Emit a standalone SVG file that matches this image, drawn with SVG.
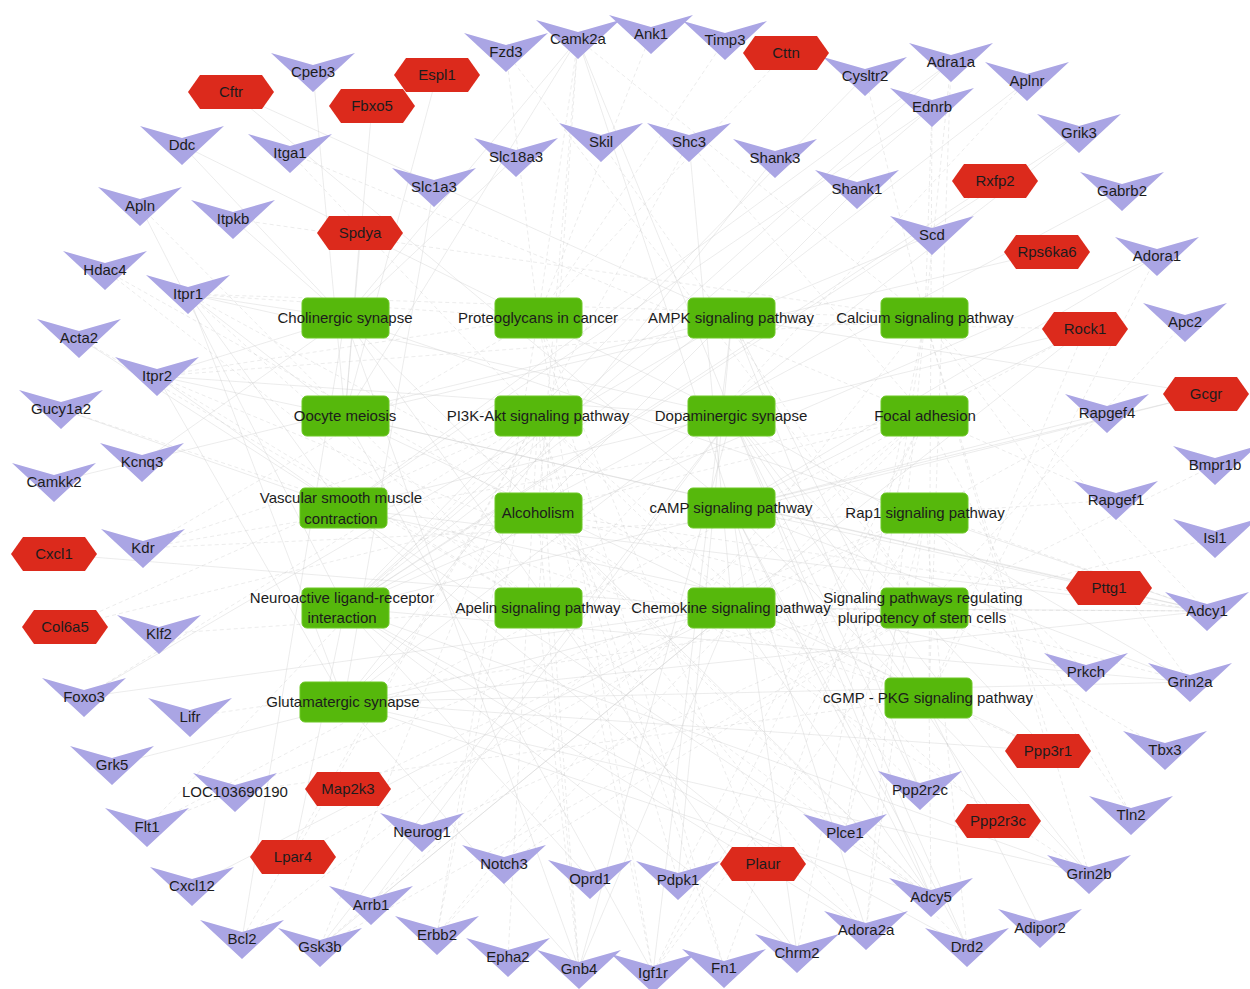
<svg xmlns="http://www.w3.org/2000/svg" xmlns:xlink="http://www.w3.org/1999/xlink" width="1250" height="989" viewBox="0 0 1250 989">
<style>
.bg{fill:#ffffff}
.e{fill:none;stroke:#cfcfcf;stroke-width:0.6;stroke-opacity:0.65}
.d{stroke-dasharray:4 3}
.tri{fill:#aaa5e4}
.hex{fill:#dc2a1c}
.pw{fill:#56b80c;stroke:#6cc825;stroke-width:1}
text{font-family:"Liberation Sans",Arial,sans-serif;font-size:15px;fill:#1c1c1c;text-anchor:middle}
</style>
<defs>
<polygon id="tri" points="-42,-19 0,-7 42,-19 0,20"/>
<polygon id="hex" points="-43,0 -31,-17 31,-17 43,0 31,17 -31,17"/>
</defs>
<rect class="bg" x="0" y="0" width="1250" height="989"/>
<g id="connectors">
<path id="e-A" class="e" d="M345 318L188 294M345 318L157 376M345 318L578 39M345 318L142 462M345 318L516 157M345 318L579 969M345 318L797 953M345 318L1207 611M345 318L931 897M345 318L242 939M345 318L182 145M345 318L233 219"/>
<path id="e-B" class="e d" d="M538 318L506 52M538 318L188 294M538 318L157 376M538 318L578 39M538 318L437 935M538 318L653 973M538 318L724 968M538 318L786 53M538 318L1085 329M538 318L763 864M538 318L143 548M538 318L725 40M538 318L651 34"/>
<path id="e-C" class="e" d="M732 318L678 880M732 318L653 973M732 318L932 235M732 318L231 92M732 318L1040 928M732 318L920 790M732 318L84 697M732 318L1206 394M732 318L54 482"/>
<path id="e-D" class="e d" d="M925 318L188 294M925 318L157 376M925 318L578 39M925 318L1207 611M925 318L932 107M925 318L951 62M925 318L865 76M925 318L1190 682M925 318L1089 874M925 318L437 935M925 318L1048 751M925 318L233 219M925 318L845 833M925 318L866 930M925 318L797 953"/>
<path id="e-E" class="e" d="M345 416L437 75M345 416L372 106M345 416L1109 588M345 416L578 39M345 416L188 294M345 416L157 376M345 416L360 233M345 416L1207 611M345 416L653 973M345 416L313 72M345 416L1047 252M345 416L1048 751"/>
<path id="e-F" class="e d" d="M538 416L678 880M538 416L653 973M538 416L143 548M538 416L147 827M538 416L724 968M538 416L242 939M538 416L84 697M538 416L437 935M538 416L579 969M538 416L65 627M538 416L290 153M538 416L293 857M538 416L320 947M538 416L920 790M538 416L998 821M538 416L508 957M538 416L689 142"/>
<path id="e-G" class="e" d="M732 416L967 947M732 416L578 39M732 416L188 294M732 416L157 376M732 416L579 969M732 416L320 947M732 416L920 790M732 416L998 821M732 416L371 905M732 416L1190 682M732 416L1089 874M732 416L182 145M732 416L1048 751M732 416L931 897"/>
<path id="e-H" class="e d" d="M925 416L290 153M925 416L724 968M925 416L143 548M925 416L147 827M925 416L242 939M925 416L1085 329M925 416L653 973M925 416L678 880M925 416L65 627M925 416L320 947M925 416L437 935M925 416L1116 500M925 416L1131 815M925 416L689 142"/>
<path id="e-I" class="e" d="M343 508L951 62M343 508L932 107M343 508L79 338M343 508L61 409M343 508L1207 611M343 508L931 897M343 508L1085 329M343 508L188 294M343 508L157 376M343 508L866 930M343 508L1086 672"/>
<path id="e-J" class="e d" d="M538 513L105 270M538 513L578 39M538 513L1190 682M538 513L1089 874M538 513L579 969M538 513L967 947M538 513L1207 611M538 513L931 897M538 513L866 930"/>
<path id="e-K" class="e" d="M732 508L1207 611M732 508L931 897M732 508L578 39M732 508L967 947M732 508L1157 256M732 508L866 930M732 508L797 953M732 508L1190 682M732 508L1089 874M732 508L1107 413M732 508L231 92M732 508L1085 329M732 508L1206 394"/>
<path id="e-L" class="e d" d="M925 513L1116 500M925 513L1107 413M925 513L143 548M925 513L147 827M925 513L653 973M925 513L293 857M925 513L1131 815M925 513L866 930M925 513L967 947M925 513L845 833M925 513L348 789M925 513L1207 611M925 513L1086 672"/>
<path id="e-M" class="e" d="M345 608L951 62M345 608L932 107M345 608L1157 256M345 608L866 930M345 608L967 947M345 608L797 953M345 608L1079 133M345 608L1122 191M345 608L1190 682M345 608L1089 874M345 608L590 879M345 608L865 76M345 608L1027 81M345 608L1206 394M345 608L293 857M345 608L995 181M345 608L140 206"/>
<path id="e-N" class="e d" d="M538 608L140 206M538 608L1027 81M538 608L1207 611M538 608L931 897M538 608L188 294M538 608L157 376M538 608L578 39M538 608L579 969M538 608L105 270M538 608L159 634M538 608L79 338"/>
<path id="e-O" class="e" d="M732 608L54 554M732 608L192 886M732 608L371 905M732 608L579 969M732 608L1207 611M732 608L931 897M732 608L1085 329M732 608L320 947M732 608L112 765M732 608L84 697M732 608L689 142"/>
<path id="e-P" class="e d" d="M925 608L506 52M925 608L1185 322M925 608L320 947M925 608L1215 538M925 608L1165 750M925 608L1215 465M925 608L601 142M925 608L190 717M925 608L653 973M925 608L422 832M925 608L504 864"/>
<path id="e-Q" class="e" d="M344 702L1190 682M344 702L1089 874M344 702L1079 133M344 702L857 189M344 702L775 158M344 702L188 294M344 702L157 376M344 702L579 969M344 702L1207 611M344 702L931 897M344 702L434 187M344 702L1048 751"/>
<path id="e-R" class="e d" d="M929 698L951 62M929 698L932 107M929 698L188 294M929 698L157 376M929 698L61 409M929 698L931 897M929 698L1048 751M929 698L1085 329M929 698L1157 256M929 698L236 792"/>
</g>
<g id="pathways">
<g id="p-cholinergic"><rect class="pw" x="302" y="298" width="87" height="40" rx="5"/><text x="345" y="323">Cholinergic synapse</text></g>
<g id="p-proteoglycans"><rect class="pw" x="495" y="298" width="87" height="40" rx="5"/><text x="538" y="323">Proteoglycans in cancer</text></g>
<g id="p-ampk"><rect class="pw" x="688" y="298" width="87" height="40" rx="5"/><text x="731" y="323">AMPK signaling pathway</text></g>
<g id="p-calcium"><rect class="pw" x="881" y="298" width="87" height="40" rx="5"/><text x="925" y="323">Calcium signaling pathway</text></g>
<g id="p-oocyte"><rect class="pw" x="302" y="396" width="87" height="40" rx="5"/><text x="345" y="421">Oocyte meiosis</text></g>
<g id="p-pi3k"><rect class="pw" x="495" y="396" width="87" height="40" rx="5"/><text x="538" y="421">PI3K-Akt signaling pathway</text></g>
<g id="p-dopaminergic"><rect class="pw" x="688" y="396" width="87" height="40" rx="5"/><text x="731" y="421">Dopaminergic synapse</text></g>
<g id="p-focal"><rect class="pw" x="881" y="396" width="87" height="40" rx="5"/><text x="925" y="421">Focal adhesion</text></g>
<g id="p-vascular"><rect class="pw" x="300" y="488" width="87" height="40" rx="5"/><text x="341" y="503">Vascular smooth muscle</text><text x="341" y="524">contraction</text></g>
<g id="p-alcoholism"><rect class="pw" x="495" y="493" width="87" height="40" rx="5"/><text x="538" y="518">Alcoholism</text></g>
<g id="p-camp"><rect class="pw" x="688" y="488" width="87" height="40" rx="5"/><text x="731" y="513">cAMP signaling pathway</text></g>
<g id="p-rap1"><rect class="pw" x="881" y="493" width="87" height="40" rx="5"/><text x="925" y="518">Rap1 signaling pathway</text></g>
<g id="p-neuroactive"><rect class="pw" x="302" y="588" width="87" height="40" rx="5"/><text x="342" y="603">Neuroactive ligand-receptor</text><text x="342" y="623">interaction</text></g>
<g id="p-apelin"><rect class="pw" x="495" y="588" width="87" height="40" rx="5"/><text x="538" y="613">Apelin signaling pathway</text></g>
<g id="p-chemokine"><rect class="pw" x="688" y="588" width="87" height="40" rx="5"/><text x="731" y="613">Chemokine signaling pathway</text></g>
<g id="p-stemcells"><rect class="pw" x="881" y="588" width="87" height="40" rx="5"/><text x="923" y="603">Signaling pathways regulating</text><text x="922" y="623">pluripotency of stem cells</text></g>
<g id="p-glutamatergic"><rect class="pw" x="300" y="682" width="87" height="40" rx="5"/><text x="343" y="707">Glutamatergic synapse</text></g>
<g id="p-cgmp"><rect class="pw" x="885" y="678" width="87" height="40" rx="5"/><text x="928" y="703">cGMP - PKG signaling pathway</text></g>
</g>
<g id="genes">
<g id="n-Cpeb3"><use href="#tri" class="tri" x="313" y="72"/><text x="313" y="77">Cpeb3</text></g>
<g id="n-Fzd3"><use href="#tri" class="tri" x="506" y="52"/><text x="506" y="57">Fzd3</text></g>
<g id="n-Camk2a"><use href="#tri" class="tri" x="578" y="39"/><text x="578" y="44">Camk2a</text></g>
<g id="n-Ank1"><use href="#tri" class="tri" x="651" y="34"/><text x="651" y="39">Ank1</text></g>
<g id="n-Timp3"><use href="#tri" class="tri" x="725" y="40"/><text x="725" y="45">Timp3</text></g>
<g id="n-Cysltr2"><use href="#tri" class="tri" x="865" y="76"/><text x="865" y="81">Cysltr2</text></g>
<g id="n-Adra1a"><use href="#tri" class="tri" x="951" y="62"/><text x="951" y="67">Adra1a</text></g>
<g id="n-Aplnr"><use href="#tri" class="tri" x="1027" y="81"/><text x="1027" y="86">Aplnr</text></g>
<g id="n-Ednrb"><use href="#tri" class="tri" x="932" y="107"/><text x="932" y="112">Ednrb</text></g>
<g id="n-Grik3"><use href="#tri" class="tri" x="1079" y="133"/><text x="1079" y="138">Grik3</text></g>
<g id="n-Gabrb2"><use href="#tri" class="tri" x="1122" y="191"/><text x="1122" y="196">Gabrb2</text></g>
<g id="n-Adora1"><use href="#tri" class="tri" x="1157" y="256"/><text x="1157" y="261">Adora1</text></g>
<g id="n-Apc2"><use href="#tri" class="tri" x="1185" y="322"/><text x="1185" y="327">Apc2</text></g>
<g id="n-Rapgef4"><use href="#tri" class="tri" x="1107" y="413"/><text x="1107" y="418">Rapgef4</text></g>
<g id="n-Bmpr1b"><use href="#tri" class="tri" x="1215" y="465"/><text x="1215" y="470">Bmpr1b</text></g>
<g id="n-Rapgef1"><use href="#tri" class="tri" x="1116" y="500"/><text x="1116" y="505">Rapgef1</text></g>
<g id="n-Isl1"><use href="#tri" class="tri" x="1215" y="538"/><text x="1215" y="543">Isl1</text></g>
<g id="n-Adcy1"><use href="#tri" class="tri" x="1207" y="611"/><text x="1207" y="616">Adcy1</text></g>
<g id="n-Prkch"><use href="#tri" class="tri" x="1086" y="672"/><text x="1086" y="677">Prkch</text></g>
<g id="n-Grin2a"><use href="#tri" class="tri" x="1190" y="682"/><text x="1190" y="687">Grin2a</text></g>
<g id="n-Tbx3"><use href="#tri" class="tri" x="1165" y="750"/><text x="1165" y="755">Tbx3</text></g>
<g id="n-Tln2"><use href="#tri" class="tri" x="1131" y="815"/><text x="1131" y="820">Tln2</text></g>
<g id="n-Grin2b"><use href="#tri" class="tri" x="1089" y="874"/><text x="1089" y="879">Grin2b</text></g>
<g id="n-Adipor2"><use href="#tri" class="tri" x="1040" y="928"/><text x="1040" y="933">Adipor2</text></g>
<g id="n-Drd2"><use href="#tri" class="tri" x="967" y="947"/><text x="967" y="952">Drd2</text></g>
<g id="n-Adora2a"><use href="#tri" class="tri" x="866" y="930"/><text x="866" y="935">Adora2a</text></g>
<g id="n-Adcy5"><use href="#tri" class="tri" x="931" y="897"/><text x="931" y="902">Adcy5</text></g>
<g id="n-Ppp2r2c"><use href="#tri" class="tri" x="920" y="790"/><text x="920" y="795">Ppp2r2c</text></g>
<g id="n-Plce1"><use href="#tri" class="tri" x="845" y="833"/><text x="845" y="838">Plce1</text></g>
<g id="n-Chrm2"><use href="#tri" class="tri" x="797" y="953"/><text x="797" y="958">Chrm2</text></g>
<g id="n-Fn1"><use href="#tri" class="tri" x="724" y="968"/><text x="724" y="973">Fn1</text></g>
<g id="n-Igf1r"><use href="#tri" class="tri" x="653" y="973"/><text x="653" y="978">Igf1r</text></g>
<g id="n-Pdpk1"><use href="#tri" class="tri" x="678" y="880"/><text x="678" y="885">Pdpk1</text></g>
<g id="n-Oprd1"><use href="#tri" class="tri" x="590" y="879"/><text x="590" y="884">Oprd1</text></g>
<g id="n-Gnb4"><use href="#tri" class="tri" x="579" y="969"/><text x="579" y="974">Gnb4</text></g>
<g id="n-Epha2"><use href="#tri" class="tri" x="508" y="957"/><text x="508" y="962">Epha2</text></g>
<g id="n-Notch3"><use href="#tri" class="tri" x="504" y="864"/><text x="504" y="869">Notch3</text></g>
<g id="n-Erbb2"><use href="#tri" class="tri" x="437" y="935"/><text x="437" y="940">Erbb2</text></g>
<g id="n-Arrb1"><use href="#tri" class="tri" x="371" y="905"/><text x="371" y="910">Arrb1</text></g>
<g id="n-Neurog1"><use href="#tri" class="tri" x="422" y="832"/><text x="422" y="837">Neurog1</text></g>
<g id="n-Gsk3b"><use href="#tri" class="tri" x="320" y="947"/><text x="320" y="952">Gsk3b</text></g>
<g id="n-Bcl2"><use href="#tri" class="tri" x="242" y="939"/><text x="242" y="944">Bcl2</text></g>
<g id="n-Cxcl12"><use href="#tri" class="tri" x="192" y="886"/><text x="192" y="891">Cxcl12</text></g>
<g id="n-Flt1"><use href="#tri" class="tri" x="147" y="827"/><text x="147" y="832">Flt1</text></g>
<g id="n-LOC103690190"><use href="#tri" class="tri" x="235" y="792"/><text x="235" y="797">LOC103690190</text></g>
<g id="n-Grk5"><use href="#tri" class="tri" x="112" y="765"/><text x="112" y="770">Grk5</text></g>
<g id="n-Lifr"><use href="#tri" class="tri" x="190" y="717"/><text x="190" y="722">Lifr</text></g>
<g id="n-Foxo3"><use href="#tri" class="tri" x="84" y="697"/><text x="84" y="702">Foxo3</text></g>
<g id="n-Klf2"><use href="#tri" class="tri" x="159" y="634"/><text x="159" y="639">Klf2</text></g>
<g id="n-Kdr"><use href="#tri" class="tri" x="143" y="548"/><text x="143" y="553">Kdr</text></g>
<g id="n-Camkk2"><use href="#tri" class="tri" x="54" y="482"/><text x="54" y="487">Camkk2</text></g>
<g id="n-Kcnq3"><use href="#tri" class="tri" x="142" y="462"/><text x="142" y="467">Kcnq3</text></g>
<g id="n-Gucy1a2"><use href="#tri" class="tri" x="61" y="409"/><text x="61" y="414">Gucy1a2</text></g>
<g id="n-Itpr2"><use href="#tri" class="tri" x="157" y="376"/><text x="157" y="381">Itpr2</text></g>
<g id="n-Acta2"><use href="#tri" class="tri" x="79" y="338"/><text x="79" y="343">Acta2</text></g>
<g id="n-Itpr1"><use href="#tri" class="tri" x="188" y="294"/><text x="188" y="299">Itpr1</text></g>
<g id="n-Hdac4"><use href="#tri" class="tri" x="105" y="270"/><text x="105" y="275">Hdac4</text></g>
<g id="n-Apln"><use href="#tri" class="tri" x="140" y="206"/><text x="140" y="211">Apln</text></g>
<g id="n-Itpkb"><use href="#tri" class="tri" x="233" y="219"/><text x="233" y="224">Itpkb</text></g>
<g id="n-Ddc"><use href="#tri" class="tri" x="182" y="145"/><text x="182" y="150">Ddc</text></g>
<g id="n-Itga1"><use href="#tri" class="tri" x="290" y="153"/><text x="290" y="158">Itga1</text></g>
<g id="n-Slc1a3"><use href="#tri" class="tri" x="434" y="187"/><text x="434" y="192">Slc1a3</text></g>
<g id="n-Slc18a3"><use href="#tri" class="tri" x="516" y="157"/><text x="516" y="162">Slc18a3</text></g>
<g id="n-Skil"><use href="#tri" class="tri" x="601" y="142"/><text x="601" y="147">Skil</text></g>
<g id="n-Shc3"><use href="#tri" class="tri" x="689" y="142"/><text x="689" y="147">Shc3</text></g>
<g id="n-Shank3"><use href="#tri" class="tri" x="775" y="158"/><text x="775" y="163">Shank3</text></g>
<g id="n-Shank1"><use href="#tri" class="tri" x="857" y="189"/><text x="857" y="194">Shank1</text></g>
<g id="n-Scd"><use href="#tri" class="tri" x="932" y="235"/><text x="932" y="240">Scd</text></g>
<g id="n-Cftr"><use href="#hex" class="hex" x="231" y="92"/><text x="231" y="97">Cftr</text></g>
<g id="n-Espl1"><use href="#hex" class="hex" x="437" y="75"/><text x="437" y="80">Espl1</text></g>
<g id="n-Fbxo5"><use href="#hex" class="hex" x="372" y="106"/><text x="372" y="111">Fbxo5</text></g>
<g id="n-Cttn"><use href="#hex" class="hex" x="786" y="53"/><text x="786" y="58">Cttn</text></g>
<g id="n-Rxfp2"><use href="#hex" class="hex" x="995" y="181"/><text x="995" y="186">Rxfp2</text></g>
<g id="n-Rps6ka6"><use href="#hex" class="hex" x="1047" y="252"/><text x="1047" y="257">Rps6ka6</text></g>
<g id="n-Rock1"><use href="#hex" class="hex" x="1085" y="329"/><text x="1085" y="334">Rock1</text></g>
<g id="n-Gcgr"><use href="#hex" class="hex" x="1206" y="394"/><text x="1206" y="399">Gcgr</text></g>
<g id="n-Spdya"><use href="#hex" class="hex" x="360" y="233"/><text x="360" y="238">Spdya</text></g>
<g id="n-Cxcl1"><use href="#hex" class="hex" x="54" y="554"/><text x="54" y="559">Cxcl1</text></g>
<g id="n-Col6a5"><use href="#hex" class="hex" x="65" y="627"/><text x="65" y="632">Col6a5</text></g>
<g id="n-Pttg1"><use href="#hex" class="hex" x="1109" y="588"/><text x="1109" y="593">Pttg1</text></g>
<g id="n-Ppp3r1"><use href="#hex" class="hex" x="1048" y="751"/><text x="1048" y="756">Ppp3r1</text></g>
<g id="n-Map2k3"><use href="#hex" class="hex" x="348" y="789"/><text x="348" y="794">Map2k3</text></g>
<g id="n-Ppp2r3c"><use href="#hex" class="hex" x="998" y="821"/><text x="998" y="826">Ppp2r3c</text></g>
<g id="n-Lpar4"><use href="#hex" class="hex" x="293" y="857"/><text x="293" y="862">Lpar4</text></g>
<g id="n-Plaur"><use href="#hex" class="hex" x="763" y="864"/><text x="763" y="869">Plaur</text></g>
</g>
</svg>
